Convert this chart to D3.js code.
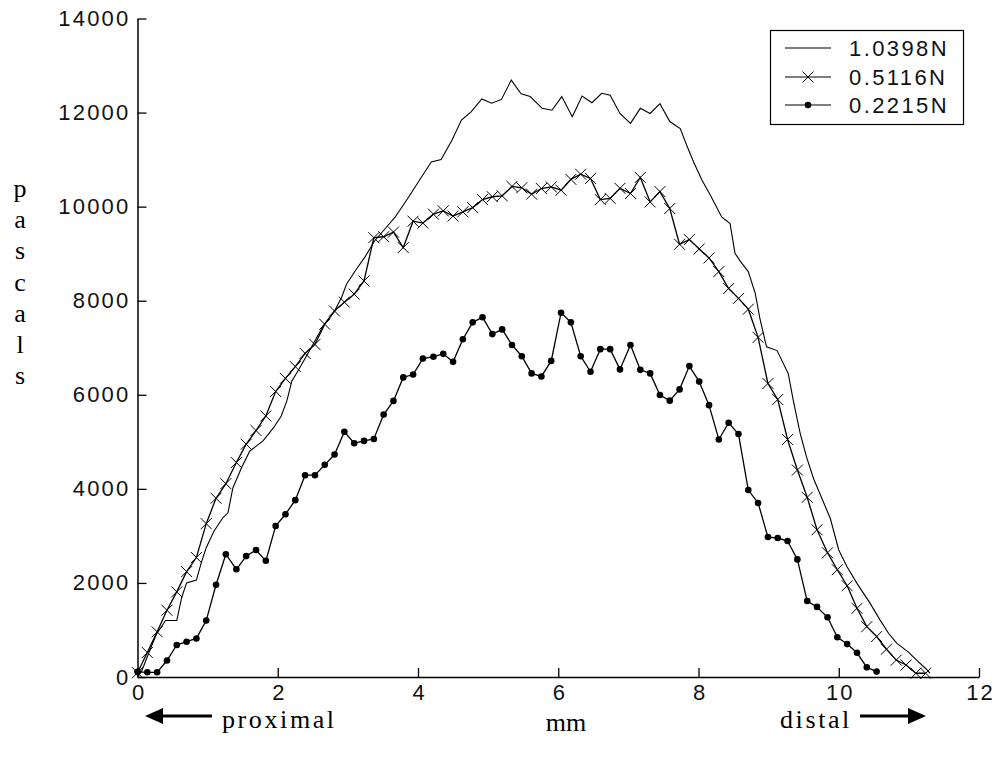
<!DOCTYPE html>
<html>
<head>
<meta charset="utf-8">
<script src="https://cdn.jsdelivr.net/npm/d3@7"></script>
<style>
  html, body { margin: 0; padding: 0; background: #fff; }
  svg { display: block; }
</style>
</head>
<body>
<svg id="chart" width="995" height="757"></svg>
<script>
// Legend entries (applied force)
const seriesLabels = ["1.0398N", "0.5116N", "0.2215N"];

// Axis ticks
const xTicks = [0, 2, 4, 6, 8, 10, 12];
const yTicks = [0, 2000, 4000, 6000, 8000, 10000, 12000, 14000];

// 1.0398N trace: position (mm) and pressure (Pa)
const highMm = [0.00, 0.06, 0.20, 0.27, 0.40, 0.56, 0.63, 0.70, 0.84, 0.91, 0.98, 1.09, 1.22, 1.29, 1.36, 1.48,
  1.60, 1.79, 1.94, 2.05, 2.13, 2.20, 2.29, 2.48, 2.65, 2.81, 2.91, 2.98, 3.12, 3.24, 3.38, 3.53, 3.67, 3.86,
  4.05, 4.19, 4.33, 4.48, 4.62, 4.76, 4.91, 5.05, 5.19, 5.33, 5.47, 5.60, 5.77, 5.91, 6.05, 6.20, 6.34, 6.48,
  6.62, 6.74, 6.88, 7.03, 7.17, 7.31, 7.45, 7.59, 7.74, 7.83, 7.93, 8.05, 8.17, 8.33, 8.45, 8.52, 8.60, 8.71,
  8.81, 8.88, 8.97, 9.12, 9.28, 9.35, 9.45, 9.54, 9.64, 9.88, 10.00, 10.12, 10.26, 10.45, 10.59, 10.71, 10.83,
  10.99, 11.11, 11.25, 11.30];
const highPa = [0, 130, 660, 910, 1200, 1200, 1690, 2000, 2060, 2430, 2750, 3100, 3390, 3490, 4020, 4440,
  4800, 5020, 5300, 5550, 5870, 6290, 6510, 7010, 7470, 7780, 8070, 8350, 8670, 8920, 9270, 9530, 9770, 10190,
  10630, 10950, 11000, 11400, 11840, 12020, 12290, 12200, 12280, 12690, 12400, 12340, 12090, 12050, 12340, 11910, 12350, 12210,
  12410, 12370, 11980, 11770, 12090, 11980, 12190, 11810, 11660, 11310, 10950, 10560, 10240, 9780, 9640, 9010, 8830, 8620,
  8150, 7590, 7020, 6940, 6450, 5890, 5180, 4680, 4220, 3370, 2700, 2340, 1990, 1560, 1210, 930, 715,
  535, 360, 165, 80];

// Sample positions (mm) of the marked traces
const sampleMm = [0.00, 0.14, 0.28, 0.42, 0.56, 0.70, 0.84, 0.98, 1.12, 1.26, 1.41, 1.55, 1.69, 1.83, 1.97, 2.11,
  2.25, 2.39, 2.53, 2.67, 2.81, 2.95, 3.09, 3.23, 3.37, 3.51, 3.65, 3.79, 3.93, 4.07, 4.22, 4.36, 4.50, 4.64,
  4.78, 4.92, 5.06, 5.20, 5.34, 5.48, 5.62, 5.76, 5.90, 6.04, 6.18, 6.32, 6.46, 6.60, 6.74, 6.88, 7.03, 7.17,
  7.31, 7.45, 7.59, 7.73, 7.87, 8.01, 8.15, 8.29, 8.43, 8.57, 8.71, 8.85, 8.99, 9.13, 9.27, 9.41, 9.55, 9.69,
  9.84, 9.98, 10.12, 10.26, 10.40, 10.54, 10.68, 10.82, 10.96, 11.10, 11.24];

// 0.5116N trace (Pa), one value per sample position
const midPa = [90, 520, 960, 1420, 1810, 2240, 2540, 3260, 3800, 4110, 4560, 4950, 5240, 5550, 6070, 6350,
  6600, 6880, 7070, 7500, 7780, 7970, 8140, 8420, 9340, 9360, 9460, 9130, 9690, 9650, 9840, 9910, 9800, 9890,
  9980, 10150, 10210, 10230, 10430, 10400, 10265, 10385, 10420, 10350, 10580, 10690, 10600, 10150, 10175, 10390, 10280, 10620,
  10100, 10320, 9960, 9200, 9300, 9100, 8910, 8620, 8260, 8050, 7820, 7220, 6240, 5900, 5050, 4400, 3820, 3130,
  2640, 2280, 1940, 1460, 1070, 860, 590, 360, 255, 80, 80];

// 0.2215N trace (Pa), one value per sample position
const lowPa = [110, 100, 100, 350, 680, 750, 820, 1200, 1960, 2610, 2290, 2570, 2700, 2470, 3210, 3460,
  3760, 4290, 4290, 4510, 4730, 5215, 4970, 5020, 5060, 5580, 5870, 6370, 6430, 6770, 6810, 6870, 6700, 7180,
  7540, 7650, 7290, 7390, 7060, 6820, 6455, 6390, 6720, 7745, 7540, 6820, 6490, 6970, 6970, 6540, 7060, 6530,
  6455, 5995, 5875, 6115, 6610, 6280, 5780, 5050, 5405, 5165, 3975, 3700, 2975, 2955, 2890, 2500, 1615, 1490,
  1270, 845, 700, 515, 205, 115];

const svg = d3.select("#chart");
const tickFont = "'Liberation Sans', Arial, sans-serif";
const serifFont = "'Liberation Serif', 'Times New Roman', serif";

const x = d3.scaleLinear().domain([0, 12]).range([137.5, 979]);
const y = d3.scaleLinear().domain([0, 14000]).range([677, 18.5]);

// Axes: left and bottom only, ticks pointing inward
const xAxis = svg.append("g")
  .attr("transform", `translate(0,${y(0)})`)
  .call(d3.axisBottom(x).tickValues(xTicks).tickFormat(d3.format("d")).tickSize(-9).tickPadding(7).tickSizeOuter(0));
const yAxis = svg.append("g")
  .attr("transform", `translate(${x(0)},0)`)
  .call(d3.axisLeft(y).tickValues(yTicks).tickFormat(d3.format("d")).tickSize(-9).tickPadding(7).tickSizeOuter(0));

[xAxis, yAxis].forEach(g => {
  g.select(".domain").attr("stroke", "#000").attr("stroke-width", 1.5);
  g.selectAll(".tick line").attr("stroke", "#000").attr("stroke-width", 1.3);
  g.selectAll(".tick text")
    .attr("fill", "#111")
    .style("font-family", tickFont)
    .style("font-size", "22px")
    .style("letter-spacing", "2.2px");
});
// keep bottom labels centred on their ticks despite the trailing letter spacing
xAxis.selectAll(".tick text").attr("dx", "1.1px");

// Traces
const lineHigh = d3.line().x((d, i) => x(highMm[i])).y(d => y(d));
const lineSampled = d3.line().x((d, i) => x(sampleMm[i])).y(d => y(d));

svg.append("path").datum(highPa)
  .attr("d", lineHigh).attr("fill", "none").attr("stroke", "#000").attr("stroke-width", 1.1);

svg.append("path").datum(midPa)
  .attr("d", lineSampled).attr("fill", "none").attr("stroke", "#000").attr("stroke-width", 1.3);

svg.append("path").datum(lowPa)
  .attr("d", lineSampled).attr("fill", "none").attr("stroke", "#000").attr("stroke-width", 1.3);

// Cross markers for 0.5116N
const crossSize = 5.5;
function crossPath(cx, cy) {
  return `M${cx - crossSize},${cy - crossSize}L${cx + crossSize},${cy + crossSize}` +
         `M${cx - crossSize},${cy + crossSize}L${cx + crossSize},${cy - crossSize}`;
}
svg.append("g").selectAll("path").data(midPa).join("path")
  .attr("d", (d, i) => crossPath(x(sampleMm[i]), y(d)))
  .attr("stroke", "#000").attr("stroke-width", 1).attr("fill", "none");

// Dot markers for 0.2215N
svg.append("g").selectAll("circle").data(lowPa).join("circle")
  .attr("cx", (d, i) => x(sampleMm[i])).attr("cy", d => y(d))
  .attr("r", 3.3).attr("fill", "#000");

// Legend
const legend = svg.append("g");
legend.append("rect").attr("x", 770.5).attr("y", 30.5).attr("width", 193).attr("height", 94)
  .attr("fill", "#fff").attr("stroke", "#000").attr("stroke-width", 1.2);
const legendRows = [48, 77, 105];
seriesLabels.forEach((label, k) => {
  const ly = legendRows[k];
  legend.append("line").attr("x1", 785).attr("x2", 831).attr("y1", ly).attr("y2", ly)
    .attr("stroke", "#000").attr("stroke-width", 1.1);
  if (k === 1) {
    legend.append("path").attr("d", crossPath(808, ly)).attr("stroke", "#000").attr("stroke-width", 1).attr("fill", "none");
  }
  if (k === 2) {
    legend.append("circle").attr("cx", 808).attr("cy", ly).attr("r", 3.3).attr("fill", "#000");
  }
  legend.append("text").attr("x", 849).attr("y", ly).attr("dy", "0.36em")
    .attr("fill", "#111")
    .style("font-family", tickFont).style("font-size", "22px").style("letter-spacing", "2.4px")
    .text(label);
});

// Vertical axis title, one letter per line
const yTitle = "pascals".split("");
svg.append("g").selectAll("text").data(yTitle).join("text")
  .attr("x", 20).attr("y", (d, i) => 197 + i * 31.2)
  .attr("text-anchor", "middle")
  .style("font-family", serifFont).style("font-size", "26px")
  .text(d => d);

// Horizontal axis title and direction labels
svg.append("text").attr("x", 566).attr("y", 731).attr("text-anchor", "middle")
  .style("font-family", serifFont).style("font-size", "26px").text("mm");
svg.append("text").attr("x", 222).attr("y", 728)
  .style("font-family", serifFont).style("font-size", "26px").style("letter-spacing", "2.6px").text("proximal");
svg.append("text").attr("x", 780).attr("y", 728)
  .style("font-family", serifFont).style("font-size", "26px").style("letter-spacing", "2.6px").text("distal");

function arrow(x1, x2, yy) {
  const dir = Math.sign(x2 - x1);
  svg.append("line").attr("x1", x1).attr("x2", x2 - dir * 12).attr("y1", yy).attr("y2", yy)
    .attr("stroke", "#000").attr("stroke-width", 3);
  svg.append("path")
    .attr("d", `M${x2},${yy}L${x2 - dir * 18},${yy - 8}L${x2 - dir * 18},${yy + 8}Z`)
    .attr("fill", "#000");
}
arrow(212, 145, 716);
arrow(860, 926, 716);
</script>
</body>
</html>
